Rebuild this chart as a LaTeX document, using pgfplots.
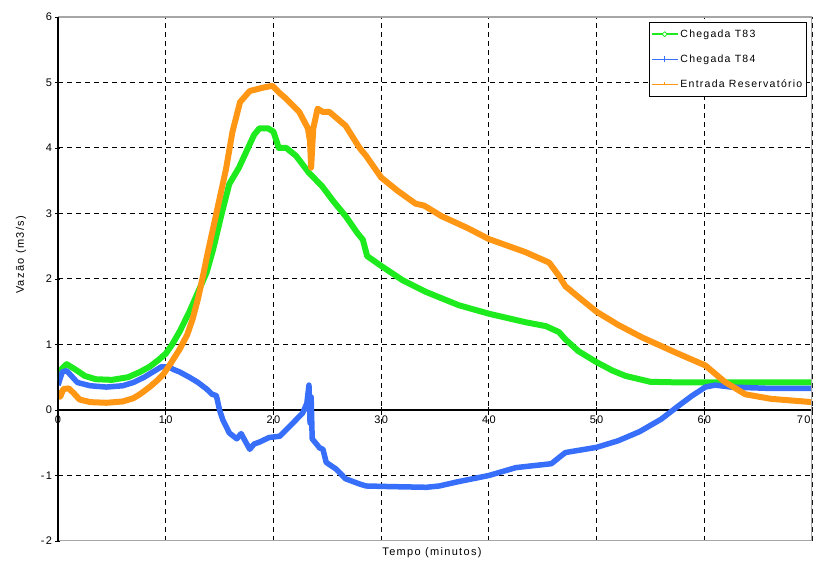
\documentclass[border=0pt]{standalone}
\usepackage{fontspec}
\setmainfont{Liberation Sans}[LetterSpace=12]
\usepackage{pgfplots}
\pgfplotsset{compat=1.18}
\definecolor{cgreen}{RGB}{30,235,30}
\definecolor{cblue}{RGB}{55,110,250}
\definecolor{corange}{RGB}{255,150,20}
\begin{document}
\begin{tikzpicture}
\begin{axis}[
  scale only axis, width=754pt, height=524pt,
  xmin=0, xmax=70, ymin=-2, ymax=6,
  axis x line=middle, axis y line=left,
  axis line style={-, line width=1.2pt, black},
  xtick={0,10,...,60}, ytick={-2,-1,...,6},
  extra x ticks={70},
  extra x tick style={tick label style={anchor=north east, xshift=2pt}},
  hide obscured x ticks=false,
  hide obscured y ticks=false,
  grid=major,
  grid style={black, line width=1pt, dash pattern=on 5pt off 4pt},
  tick style={black, line width=0.8pt},
  major tick length=5pt,
  /pgf/number format/assume math mode=true,
  ticklabel style={font=\fontsize{11}{13}\selectfont},
  legend style={at={(rel axis cs:0.993,0.99)}, anchor=north east, draw=black, line width=0.8pt,
    fill=white, font=\fontsize{10.5}{12}\selectfont, row sep=12pt, inner ysep=5pt, inner xsep=2pt},
  legend cell align=left,
]
\addplot[cgreen, line width=6pt, line join=round,
  legend image code/.code={\draw[cgreen, line width=1.5pt] (0pt,0pt) -- (26pt,0pt);
    \draw[cgreen, line width=0.8pt, fill=white] (13pt,-2.5pt) -- (15.5pt,0pt) -- (13pt,2.5pt) -- (10.5pt,0pt) -- cycle;}]
coordinates {(0,0.45)(0.3,0.62)(0.8,0.7)(1.5,0.63)(2.5,0.52)(3.5,0.47)(5,0.46)(6.5,0.5)(7.6,0.58)(8.5,0.66)(9.3,0.76)(10,0.86)(10.6,1.0)(11.3,1.2)(12.2,1.5)(13,1.8)(13.8,2.1)(14.4,2.45)(15.2,3.0)(15.9,3.45)(16.8,3.7)(17.5,3.95)(18.2,4.2)(18.7,4.3)(19.5,4.3)(20.0,4.25)(20.3,4.1)(20.5,4.0)(21.2,4.0)(22.1,3.88)(23.3,3.62)(24.5,3.42)(25.5,3.2)(26.7,2.96)(27.8,2.7)(28.3,2.6)(28.7,2.35)(30,2.2)(32,1.98)(34.2,1.8)(37.2,1.6)(40,1.47)(43.4,1.34)(45.3,1.28)(46.5,1.19)(47.1,1.08)(48.3,0.9)(50,0.73)(51.5,0.6)(52.7,0.52)(55,0.43)(58,0.42)(62,0.42)(66,0.42)(70,0.42)};
\addlegendentry{Chegada T83}
\addplot[cblue, line width=5.5pt, line join=round,
  legend image code/.code={\draw[cblue, line width=1.5pt] (0pt,0pt) -- (26pt,0pt);
    \draw[cblue, line width=0.8pt] (13pt,-3pt) -- (13pt,3pt);}]
coordinates {(0,0.38)(0.4,0.58)(0.8,0.6)(1.8,0.42)(3,0.37)(4.5,0.35)(6,0.37)(7,0.42)(8,0.5)(8.8,0.58)(9.6,0.66)(10.3,0.66)(10.7,0.62)(11.3,0.58)(12.2,0.5)(13,0.42)(13.8,0.32)(14.3,0.24)(14.7,0.22)(15,0.0)(15.3,-0.15)(15.9,-0.35)(16.6,-0.44)(17,-0.36)(17.8,-0.6)(18.2,-0.52)(18.7,-0.49)(19.6,-0.42)(20.6,-0.4)(21.8,-0.2)(22.7,-0.05)(23.1,0.1)(23.3,0.38)(23.4,-0.2)(23.5,0.2)(23.6,-0.44)(24.3,-0.58)(24.6,-0.6)(24.9,-0.8)(25.8,-0.9)(26.7,-1.05)(28,-1.13)(28.6,-1.16)(31,-1.17)(34.2,-1.18)(35.4,-1.16)(37,-1.1)(40,-1.0)(42.5,-0.88)(45.8,-0.82)(47.1,-0.65)(50,-0.57)(52,-0.47)(54,-0.33)(56,-0.14)(57.5,0.05)(58.8,0.21)(60.1,0.35)(61,0.38)(62.5,0.35)(66,0.33)(70,0.33)};
\addlegendentry{Chegada T84}
\addplot[corange, line width=6pt, line join=round,
  legend image code/.code={\draw[corange, line width=1.5pt] (0pt,0pt) -- (26pt,0pt);
    \draw[corange, line width=0.8pt] (13pt,0pt) -- (13pt,2.5pt);}]
coordinates {(0,0.3)(0.2,0.2)(0.5,0.32)(1,0.33)(1.5,0.25)(2,0.16)(3,0.12)(4.5,0.11)(6,0.13)(7,0.18)(7.6,0.24)(8.5,0.35)(9.2,0.45)(9.8,0.55)(10.5,0.72)(11.3,0.93)(12,1.15)(12.5,1.39)(13,1.7)(13.4,2.0)(13.9,2.4)(14.7,3.0)(15.6,3.68)(16.2,4.25)(16.9,4.7)(17.8,4.87)(19,4.92)(19.9,4.95)(20.5,4.85)(21.2,4.75)(22.4,4.55)(23.2,4.3)(23.4,4.1)(23.5,3.7)(23.7,4.3)(24.1,4.6)(24.6,4.55)(25.2,4.55)(26.7,4.34)(28,4.0)(28.6,3.88)(30,3.55)(31.5,3.35)(33.2,3.15)(34,3.12)(35.6,2.96)(38,2.78)(40,2.61)(43.4,2.41)(45.6,2.25)(46.5,2.05)(47.1,1.89)(48.5,1.7)(50,1.5)(52,1.3)(54.2,1.11)(57.3,0.88)(60.1,0.68)(61.9,0.43)(63.8,0.24)(66.2,0.17)(70,0.12)};
\addlegendentry{Entrada Reservatório}
\draw[gray!70, line width=1.5pt] (rel axis cs:0,1) -- (rel axis cs:1,1) -- (rel axis cs:1,0) -- (rel axis cs:0,0);
\draw[black, line width=1.2pt] (rel axis cs:0,0) -- (rel axis cs:0,1);
\end{axis}
\node[rotate=90, font=\fontsize{11}{13}\selectfont] at (-37pt,286pt) {Vazão (m3/s)};
\node[font=\fontsize{11}{13}\selectfont] at (374pt,-12pt) {Tempo (minutos)};
\pgfresetboundingbox
\path (-58pt,-26pt) rectangle (756pt,541pt);
\end{tikzpicture}
\end{document}
